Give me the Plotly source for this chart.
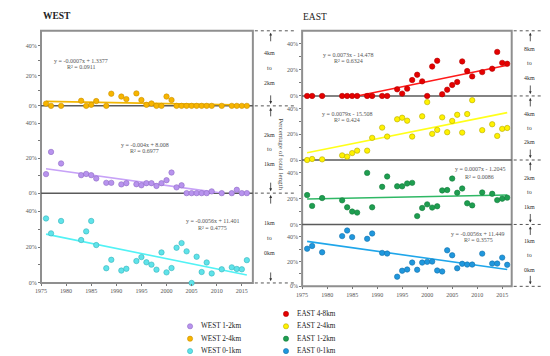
import plotly.graph_objects as go

W, H = 550, 356
SERIF = "Liberation Serif"

# ---------------- data ----------------
years = [1976, 1977, 1979, 1983, 1984, 1985, 1986, 1988, 1989, 1991, 1992, 1994, 1995,
         1996, 1997, 1998, 1999, 2000, 2001, 2002, 2003, 2004, 2005, 2006, 2007, 2008,
         2009, 2011, 2013, 2014, 2015, 2016]

west_2_4 = [1.5, 0, 0, 3.4, 0, 0.7, 3.2, 0, 8.1, 6.2, 4.5, 8.3, 3.9, 0.7, 1.6, 0, 0, 6.2,
            3.9, 0, 0, 0, 0, 0, 0, 0, 0, 0, 0, 0, 0, 0]
west_1_2 = [10.9, 23.6, 17.0, 10.3, 11.0, 10.3, 8.4, 5.9, 5.9, 5.0, 5.7, 5.1, 4.5, 5.7, 5.7,
            4.1, 5.7, 7.4, 11.8, 3.3, 4.5, 0, 0, 0, 0, 0, 1.0, 0, 0, 1.9, 0, 0]
west_0_1 = [35.9, 27.6, 34.5, 23.9, 28.7, 34.5, 21.1, 8.2, 12.9, 6.9, 7.9, 12.2, 14.4, 11.5,
            10.2, 7.4, 17.0, 5.9, 8.3, 19.6, 22.2, 17.6, 0, 14.6, 6.1, 11.4, 5.3, 7.6, 8.7,
            7.8, 7.6, 12.7]

east_4_8 = [0, 0, 0, 0, 0, 0, 0, 0, 0, 0, 0, 5.1, 1.8, 5.6, 12.2, 16.3, 11.2, 0, 22.6, 27.0,
            1.3, 4.8, 8.4, 10.7, 26.5, 19.1, 15.0, 18.3, 20.9, 33.8, 25.4, 24.7]
east_2_4 = [0, 0.8, 0.5, 3.6, 2.6, 5.4, 7.3, 7.3, 17.3, 25.3, 18.3, 31.8, 33.0, 30.7, 18.3,
            None, 34.1, 45.2, 20.4, 23.5, 33.3, 21.7, 30.5, 35.3, 21.4, 35.9, 46.7, 23.3,
            27.9, 18.8, 24.3, 25.0]
east_1_2 = [22.8, 14.4, 20.5, 18.7, 13.3, 10.0, 9.2, 40.0, 13.3, 29.2, 37.2, 29.6, 29.6, 31.8,
            32.3, 6.5, 12.8, 15.6, 13.1, 14.1, 26.4, 26.7, 35.6, 24.6, 27.9, 16.4, 14.8,
            24.8, 23.8, 18.9, 20.0, 20.8]
east_0_1 = [30.4, 32.6, 27.5, 40.6, 45.1, 39.8, None, 38.4, 42.7, 27.0, 26.5, 7.8, 12.6, 13.6,
            19.2, 13.4, 19.2, 19.8, 20.0, 12.8, 12.0, 29.1, 25.1, 14.6, 18.2, 17.6, 17.6,
            26.4, 18.4, 18.4, 23.2, 17.4]

# trend lines (end points)
west_2_4_trend_x, west_2_4_trend_y = [1976, 2016], [3.0, 0.5]
west_1_2_trend_x, west_1_2_trend_y = [1976, 2011], [14.0, 0.0]
west_0_1_trend_x, west_0_1_trend_y = [1976, 2016], [27.2, 4.4]
east_4_8_trend_x, east_4_8_trend_y = [1986, 2016], [0.0, 23.6]
east_2_4_trend_x, east_2_4_trend_y = [1976, 2016], [5.7, 37.0]
east_1_2_trend_x, east_1_2_trend_y = [1976, 2016], [19.8, 22.8]
east_0_1_trend_x, east_0_1_trend_y = [1976, 2016], [36.3, 13.6]

equations = {
    "w24": ("y = -0.0007x + 1.3377", "R² = 0.0911"),
    "w12": ("y = -0.004x + 8.008", "R² = 0.6977"),
    "w01": ("y = -0.0056x + 11.401", "R² = 0.4775"),
    "e48": ("y = 0.0073x - 14.478", "R² = 0.6324"),
    "e24": ("y = 0.0079x - 15.508", "R² = 0.424"),
    "e12": ("y = 0.0007x - 1.2045", "R² = 0.0086"),
    "e01": ("y = -0.0056x + 11.449", "R² = 0.3575"),
}

year_ticks = [1975, 1980, 1985, 1990, 1995, 2000, 2005, 2010, 2015]
pct_ticks = [0, 10, 20, 30, 40]
pct_labels = ["0%", "", "20%", "", "40%"]


def px(X):
    return X / W


def py(Y):
    return 1 - Y / H


# ---------------- geometry (pixels) ----------------
WX0, WX1 = 27.3, 241.5
EX0, EX1 = 291.3, 503.2
west_bounds = [23, 98.7, 186.7, 277.3]
east_bounds = [23, 88.7, 153.3, 218.3, 280.7]

fig = go.Figure()

series = [
    # xaxis, yaxis, name, values, fill, edge, trend x, trend y, trend colour
    ("x", "y2", "WEST 1-2km", west_1_2, "#B893EE", "#8E6CC4", west_1_2_trend_x, west_1_2_trend_y, "#C7A2F7"),
    ("x", "y", "WEST 2-4km", west_2_4, "#F7B500", "#C98E00", west_2_4_trend_x, west_2_4_trend_y, "#F2B705"),
    ("x", "y3", "WEST 0-1km", west_0_1, "#5FE3EA", "#36B3BA", west_0_1_trend_x, west_0_1_trend_y, "#52F2F5"),
    ("x2", "y4", "EAST 4-8km", east_4_8, "#E50000", "#B00000", east_4_8_trend_x, east_4_8_trend_y, "#FF1A1A"),
    ("x2", "y5", "EAST 2-4km", east_2_4, "#FFF200", "#B5AA00", east_2_4_trend_x, east_2_4_trend_y, "#FFFF1A"),
    ("x2", "y6", "EAST 1-2km", east_1_2, "#1E9E50", "#137A3A", east_1_2_trend_x, east_1_2_trend_y, "#2FB865"),
    ("x2", "y7", "EAST 0-1km", east_0_1, "#1F97DD", "#1470AA", east_0_1_trend_x, east_0_1_trend_y, "#1FA6EA"),
]

for xa, ya, name, vals, fill, edge, tx, ty, tcol in series:
    fig.add_trace(go.Scatter(x=tx, y=ty, mode="lines", xaxis=xa, yaxis=ya,
                             line=dict(color=tcol, width=1.6), showlegend=False,
                             cliponaxis=False, hoverinfo="skip"))
    fig.add_trace(go.Scatter(x=years, y=vals, mode="markers", name=name, xaxis=xa, yaxis=ya,
                             marker=dict(size=5.4, color=fill, line=dict(color=edge, width=0.6)),
                             showlegend=False, cliponaxis=False))

tickfont = dict(family=SERIF, size=6, color="#555")


def yaxis(Ytop, Ybot, anchor):
    return dict(domain=[py(Ybot), py(Ytop)], anchor=anchor, range=[0, 50],
                tickvals=pct_ticks, ticktext=pct_labels, ticks="outside", ticklen=2,
                tickcolor="#777", tickwidth=0.8, tickfont=tickfont,
                showgrid=False, zeroline=False, showline=False)


def xaxis(X0, X1, anchor, rng):
    return dict(domain=[px(X0), px(X1)], anchor=anchor, range=rng,
                tickvals=year_ticks, ticks="outside", ticklen=2, tickcolor="#777",
                tickwidth=0.8, tickfont=tickfont, showgrid=False, zeroline=False,
                showline=False)


layout = dict(
    width=W, height=H, margin=dict(l=0, r=0, t=0, b=0),
    paper_bgcolor="white", plot_bgcolor="rgba(0,0,0,0)", showlegend=False,
    font=dict(family=SERIF, color="#444"),
    xaxis=xaxis(WX0, WX1, "y3", [1975, 2017.2]),
    xaxis2=xaxis(EX0, EX1, "y7", [1975, 2016.9]),
    yaxis=yaxis(west_bounds[0], west_bounds[1], "x"),
    yaxis2=yaxis(west_bounds[1], west_bounds[2], "x"),
    yaxis3=yaxis(west_bounds[2], west_bounds[3], "x"),
    yaxis4=yaxis(east_bounds[0], east_bounds[1], "x2"),
    yaxis5=yaxis(east_bounds[1], east_bounds[2], "x2"),
    yaxis6=yaxis(east_bounds[2], east_bounds[3], "x2"),
    yaxis7=yaxis(east_bounds[3], east_bounds[4], "x2"),
)
fig.update_layout(**layout)

shapes = []
# frames
for X0, X1, b in [(WX0, WX1, west_bounds), (EX0, EX1, east_bounds)]:
    shapes.append(dict(type="rect", xref="paper", yref="paper", x0=px(X0), x1=px(X1),
                       y0=py(b[-1]), y1=py(b[0]), line=dict(color="#8f8f8f", width=2),
                       layer="below"))
    for Y in b[1:-1]:
        shapes.append(dict(type="line", xref="paper", yref="paper", x0=px(X0), x1=px(X1),
                           y0=py(Y), y1=py(Y), line=dict(color="#5a5a5a", width=1.5),
                           layer="below"))
# dotted guide lines
for Y in west_bounds:
    shapes.append(dict(type="line", xref="paper", yref="paper", x0=px(WX1 + 2), x1=px(284),
                       y0=py(Y), y1=py(Y), line=dict(color="#555", width=1, dash="dot")))
for Y in east_bounds:
    shapes.append(dict(type="line", xref="paper", yref="paper", x0=px(EX1 + 2), x1=px(550),
                       y0=py(Y), y1=py(Y), line=dict(color="#555", width=1, dash="dot")))

annotations = []


def text(X, Y, s, size=6, color="#555", xanchor="center", bold=False, angle=0):
    annotations.append(dict(xref="paper", yref="paper", x=px(X), y=py(Y), text=s,
                            showarrow=False, xanchor=xanchor, yanchor="middle",
                            textangle=angle,
                            font=dict(family=SERIF, size=size, color=color,
                                      weight="bold" if bold else "normal")))


def arrow(X, Ytip, up):
    annotations.append(dict(xref="paper", yref="paper", x=px(X), y=py(Ytip), text="",
                            showarrow=True, ax=0, ay=10 if up else -10, arrowhead=2,
                            arrowsize=0.7, arrowwidth=0.8, arrowcolor="#333"))


text(27, 8, "WEST", size=9.5, color="#222", xanchor="left", bold=True)
text(290.5, 9.5, "EAST", size=9.5, color="#222", xanchor="left")

# equations
eq_pos = {"w24": (68, 53, 60), "w12": (132, 138, 144.7), "w01": (201, 215.3, 222.3),
          "e48": (338, 47.3, 53.7), "e24": (337, 107, 112.7), "e12": (471, 162.7, 170.3),
          "e01": (469.5, 228, 234.3)}
for k, (X, Y1, Y2) in eq_pos.items():
    text(X, Y1, equations[k][0], size=6)
    text(X, Y2, equations[k][1], size=6)

# range labels with arrows
west_ranges = [("4km", "2km"), ("2km", "1km"), ("1km", "0km")]
for i, (a, b) in enumerate(west_ranges):
    top, bot = west_bounds[i], west_bounds[i + 1]
    mid = (top + bot) / 2
    text(258.5, mid - 15, a, size=6, color="#333")
    text(258.5, mid, "to", size=6, color="#333")
    text(258.5, mid + 15, b, size=6, color="#333")
    arrow(259.5, top + 2, True)
    arrow(259.5, bot - 2, False)

east_ranges = [("8km", "4km"), ("4km", "2km"), ("2km", "1km"), ("1km", "0km")]
for i, (a, b) in enumerate(east_ranges):
    top, bot = east_bounds[i], east_bounds[i + 1]
    mid = (top + bot) / 2
    text(521.5, mid - 14.5, a, size=6, color="#333")
    text(521.5, mid, "to", size=6, color="#333")
    text(521.5, mid + 14.5, b, size=6, color="#333")
    arrow(522, top + 2, True)
    arrow(522, bot - 2, False)

# y title
text(270.5, 147, "Percentage of total length", size=7, color="#444", angle=90)

# manual legends
legend_items = [
    (178, 321, "WEST 1-2km", "#B893EE", "#8E6CC4"),
    (178, 333.5, "WEST 2-4km", "#F7B500", "#C98E00"),
    (178, 346, "WEST 0-1km", "#5FE3EA", "#36B3BA"),
    (275, 308.5, "EAST 4-8km", "#E50000", "#B00000"),
    (275, 321, "EAST 2-4km", "#FFF200", "#B5AA00"),
    (275, 333.5, "EAST 1-2km", "#1E9E50", "#137A3A"),
    (275, 346, "EAST 0-1km", "#1F97DD", "#1470AA"),
]
for X, Y, lab, fill, edge in legend_items:
    r = 2.6
    shapes.append(dict(type="circle", xref="paper", yref="paper", x0=px(X - r), x1=px(X + r),
                       y0=py(Y + r), y1=py(Y - r), fillcolor=fill,
                       line=dict(color=edge, width=0.6)))
    text(X + 9, Y, lab, size=7.2, color="#222", xanchor="left")

fig.update_layout(shapes=shapes, annotations=annotations)
fig.write_html("out.html")
